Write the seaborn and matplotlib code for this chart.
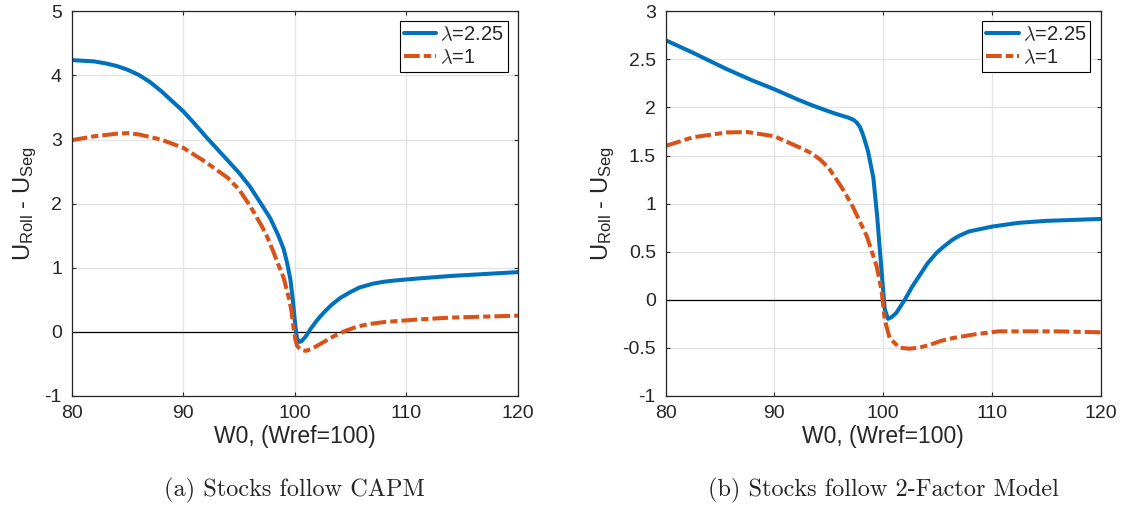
import matplotlib
matplotlib.use("Agg")
import matplotlib.pyplot as plt
from matplotlib.font_manager import FontProperties
from matplotlib.ticker import FuncFormatter, MultipleLocator

import seaborn as sns


# (a) Stocks follow CAPM
w0_blue_a = [80, 82, 83, 84, 85, 86, 87, 88, 90, 91, 92, 93, 94, 95, 96, 97, 97.8,
             98.5, 99, 99.3, 99.6, 99.8, 99.9, 100, 100.1, 100.2, 100.4, 100.6,
             101, 101.4, 102, 102.6, 103.3, 104.1, 105, 105.8, 107, 108, 109, 111,
             114, 117, 120]
u_blue_a = [4.24, 4.22, 4.19, 4.15, 4.09, 4.01, 3.90, 3.76, 3.44, 3.25, 3.05, 2.86,
            2.67, 2.48, 2.26, 1.99, 1.77, 1.51, 1.29, 1.08, 0.82, 0.53, 0.35, 0.17,
            0.02, -0.11, -0.16, -0.15, -0.07, 0.04, 0.18, 0.30, 0.42, 0.53, 0.62,
            0.69, 0.75, 0.78, 0.80, 0.83, 0.87, 0.90, 0.93]

w0_orange_a = [80, 82, 84, 85, 86, 88, 90, 92, 94, 95, 96, 97, 97.5, 98, 98.7, 99,
               99.5, 99.7, 99.9, 100.05, 100.2, 100.5, 101, 101.5, 102, 102.7,
               103.5, 104.5, 105.6, 106.7, 108, 109.5, 111, 114, 117, 120]
u_orange_a = [2.99, 3.05, 3.09, 3.10, 3.08, 3.0, 2.87, 2.65, 2.40, 2.22, 1.96, 1.66,
              1.49, 1.28, 0.97, 0.84, 0.50, 0.32, 0.04, -0.12, -0.22, -0.28, -0.30,
              -0.27, -0.22, -0.15, -0.07, 0.01, 0.08, 0.12, 0.15, 0.17, 0.19, 0.22,
              0.235, 0.25]

# (b) Stocks follow 2-Factor Model
w0_blue_b = [80, 82.5, 85.6, 88, 90, 92, 93.3, 94.5, 95.5, 96.2, 96.8, 97.3, 97.6,
             97.9, 98.2, 98.6, 99.1, 99.45, 99.7, 99.95, 100.15, 100.45, 100.8,
             101.2, 101.6, 102, 102.7, 103.4, 104.1, 104.9, 105.6, 106.4, 107,
             107.9, 110, 112.5, 115, 117.5, 120]
u_blue_b = [2.70, 2.57, 2.40, 2.28, 2.19, 2.09, 2.03, 1.98, 1.94, 1.915, 1.895,
            1.87, 1.84, 1.79, 1.70, 1.55, 1.27, 0.87, 0.52, 0.17, -0.10, -0.20,
            -0.18, -0.14, -0.07, 0.0, 0.14, 0.26, 0.38, 0.485, 0.555, 0.625, 0.665,
            0.71, 0.76, 0.80, 0.82, 0.83, 0.84]

w0_orange_b = [80, 82.5, 85.6, 87.5, 90, 92.4, 93.3, 94.2, 95, 95.6, 96.4, 97.2,
               98.5, 99.4, 99.85, 100.15, 100.6, 101.5, 102.4, 103.3, 104.3, 105.3,
               106.4, 108.5, 110.6, 113, 116, 120]
u_orange_b = [1.60, 1.69, 1.74, 1.745, 1.70, 1.58, 1.53, 1.46, 1.37, 1.27, 1.13,
              0.97, 0.66, 0.35, 0.10, -0.21, -0.40, -0.50, -0.51, -0.50, -0.47,
              -0.43, -0.40, -0.36, -0.33, -0.33, -0.33, -0.34]

labels = ["$\\lambda$=2.25", "$\\lambda$=1"]
captions = ["(a) Stocks follow CAPM", "(b) Stocks follow 2-Factor Model"]
y_limits = [(-1, 5), (-1, 3)]
y_steps = [1, 0.5]

BLUE = "#0072BD"
ORANGE = "#D95319"

sns.set_style("whitegrid")
plt.rcParams["font.family"] = ["Liberation Sans", "DejaVu Sans"]
plt.rcParams["mathtext.fontset"] = "custom"
plt.rcParams["mathtext.rm"] = "Liberation Sans"
plt.rcParams["mathtext.it"] = "Liberation Sans:italic"

fig = plt.figure(figsize=(11.27, 5.12), dpi=100)
ax_a = fig.add_axes([0.0636, 0.2271, 0.396, 0.7506])
ax_b = fig.add_axes([0.5907, 0.2271, 0.3858, 0.7506])

panels = [
    (ax_a, w0_blue_a, u_blue_a, w0_orange_a, u_orange_a),
    (ax_b, w0_blue_b, u_blue_b, w0_orange_b, u_orange_b),
]

for i, (ax, xb, yb, xo, yo) in enumerate(panels):
    ax.axhline(0, color="black", lw=0.9, zorder=1.5)
    sns.lineplot(x=xb, y=yb, color=BLUE, lw=2.9, label=labels[0], ax=ax)
    sns.lineplot(x=xo, y=yo, color=ORANGE, lw=2.9,
                 linestyle=(0, (3.9, 1.0, 1.8, 1.0)), label=labels[1], ax=ax)

    ax.set_xlim(80, 120)
    ax.set_ylim(*y_limits[i])
    ax.xaxis.set_major_locator(MultipleLocator(10))
    ax.yaxis.set_major_locator(MultipleLocator(y_steps[i]))
    ax.yaxis.set_major_formatter(FuncFormatter(lambda v, p: "%g" % v))

    ax.set_axisbelow(True)
    ax.grid(True, color="#e3e3e3", lw=0.9)
    for sp in ax.spines.values():
        sp.set_visible(True)
        sp.set_color("#262626")
        sp.set_linewidth(0.9)
    ax.tick_params(direction="in", length=3, width=0.8, pad=7,
                   top=True, right=True, bottom=True, left=True,
                   labelsize=14, labelcolor="#262626", color="#262626")

    ax.set_xlabel("W0, (Wref=100)", fontsize=16.5, color="#262626", labelpad=2)
    ax.set_ylabel("U$_{\\mathrm{Roll}}$ - U$_{\\mathrm{Seg}}$", fontsize=17,
                  color="#262626", labelpad=4)

    leg = ax.legend(loc="upper right", frameon=True, fancybox=False,
                    edgecolor="black", framealpha=1, borderpad=0.2,
                    handlelength=1.6, handletextpad=0.2, labelspacing=0.2,
                    borderaxespad=0.5,
                    prop=FontProperties(family="Liberation Sans", size=14.5,
                                        math_fontfamily="cm"))
    leg.get_frame().set_linewidth(0.8)

    box = ax.get_position()
    fig.text((box.x0 + box.x1) / 2, 0.043, captions[i], ha="center",
             va="center", fontsize=17.5, family="cmr10")

fig.savefig("out.png", dpi=100)
